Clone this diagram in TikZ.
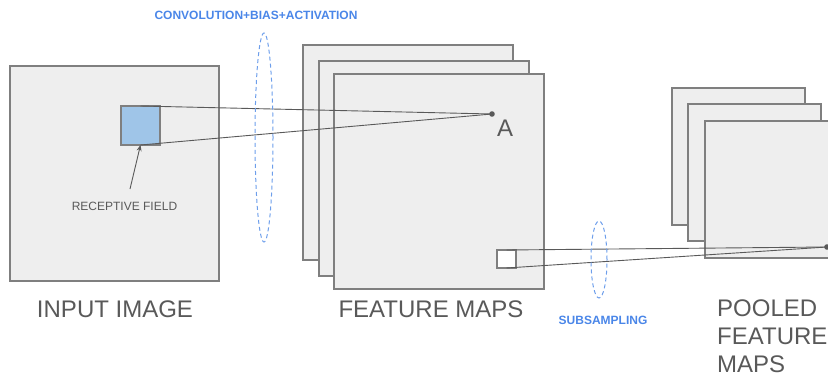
\documentclass[tikz,border=0pt]{standalone}
\usepackage{fontspec}
\setmainfont{Liberation Sans}
\usetikzlibrary{shapes.geometric,arrows.meta}
\definecolor{inkgray}{HTML}{595959}
\definecolor{edgegray}{HTML}{7F7F7F}
\definecolor{sheet}{HTML}{EEEEEE}
\definecolor{fieldblue}{HTML}{9FC5E8}
\definecolor{opblue}{HTML}{4A86E8}
\definecolor{ringblue}{HTML}{6D9EEB}
\begin{document}
\begin{tikzpicture}[x=1pt,y=-1pt,
  sheetbox/.style={draw=edgegray, line width=1.1pt, fill=sheet, inner sep=0pt,
    outer sep=0pt, anchor=north west},
  bigsheet/.style={sheetbox, minimum width=210pt, minimum height=215pt},
  poolsheet/.style={sheetbox, minimum width=133pt, minimum height=137pt},
  fieldbox/.style={sheetbox, fill=fieldblue, minimum width=39pt, minimum height=39pt},
  windowbox/.style={sheetbox, fill=white, minimum width=19pt, minimum height=18pt},
  link/.style={draw=inkgray, line width=0.9pt},
  opring/.style={ellipse, draw=ringblue, line width=1pt, dash pattern=on 4pt off 3pt,
    inner sep=0pt},
  bigtext/.style={inner sep=0pt, text=inkgray, font=\fontsize{24}{28}\selectfont},
  smalltext/.style={inner sep=0pt, text=inkgray, font=\fontsize{12}{14}\selectfont},
  optext/.style={inner sep=0pt, text=opblue, font=\bfseries\fontsize{12}{14}\selectfont},
  pointdot/.style={fill=inkgray}
]
\useasboundingbox (0,0) rectangle (828,378);
\clip (0,0) rectangle (828,378);

% input image with its receptive field
\node[bigsheet, minimum width=209pt] (input) at (10,66) {};
\node[fieldbox] (field) at (121,106) {};

% stack of feature maps
\node[bigsheet] (fmback) at (303,45) {};
\node[bigsheet] (fmmid) at (319,61) {};
\node[bigsheet] (fmfront) at (334,74) {};
\node[windowbox] (win) at (497,250) {};

% stack of pooled feature maps
\node[poolsheet] (pback) at (672,88) {};
\node[poolsheet] (pmid) at (688,104) {};
\node[poolsheet] (pfront) at (705,121) {};

% target points
\coordinate (A) at (492,114);
\coordinate (P) at (827,247);
\fill[pointdot] (A) circle (2.8pt);
\fill[pointdot] (P) circle (2.8pt);
\node[bigtext, anchor=base west] (alabel) at (497,136) {A};

% projections
\draw[link] (field.north) -- (A);
\draw[link] (field.south) -- (A);
\draw[link] (win.north) -- (P);
\draw[link] (win.south) -- (P);

% receptive field annotation
\node[smalltext, anchor=base] (rflabel) at (124.5,210) {RECEPTIVE FIELD};
\coordinate (rftail) at (130,189);
\draw[link, -{Stealth[length=6pt,width=5pt]}] (rftail) -- (field.south);

% operations
\node[opring, minimum width=18pt, minimum height=209pt] (convring) at (264,137.5) {};
\node[opring, minimum width=16pt, minimum height=77pt] (subring) at (599,259.5) {};
\node[optext, anchor=base] (convlabel) at (256,19) {CONVOLUTION+BIAS+ACTIVATION};
\node[optext, anchor=base] (sublabel) at (603,324) {SUBSAMPLING};

% captions (a multi-line node's base is its last line)
\node[bigtext, anchor=base] (inlabel) at (115,317) {INPUT IMAGE};
\node[bigtext, anchor=base] (fmlabel) at (431,317) {FEATURE MAPS};
\node[bigtext, anchor=base west, align=left] (plabel) at (717,372) {POOLED\\FEATURE\\MAPS};
\end{tikzpicture}
\end{document}
